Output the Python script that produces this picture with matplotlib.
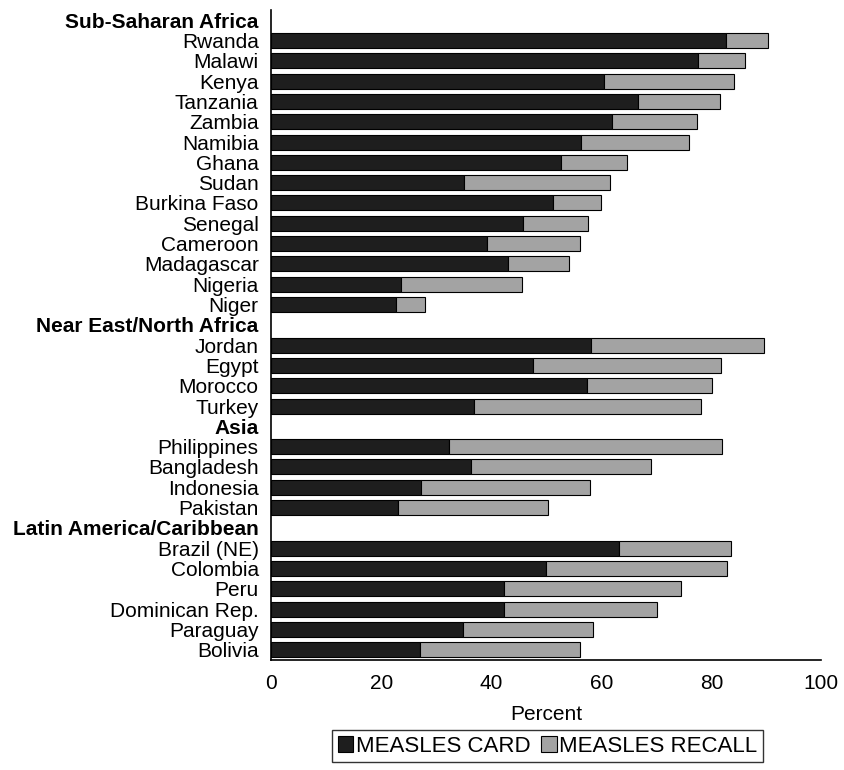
import numpy as np
import matplotlib
matplotlib.use("Agg")
import matplotlib.pyplot as plt

# ============ Data ============

labels = [
    "Sub-Saharan Africa", "Rwanda", "Malawi", "Kenya", "Tanzania", "Zambia",
    "Namibia", "Ghana", "Sudan", "Burkina Faso", "Senegal", "Cameroon",
    "Madagascar", "Nigeria", "Niger",
    "Near East/North Africa", "Jordan", "Egypt", "Morocco", "Turkey",
    "Asia", "Philippines", "Bangladesh", "Indonesia", "Pakistan",
    "Latin America/Caribbean", "Brazil (NE)", "Colombia", "Peru",
    "Dominican Rep.", "Paraguay", "Bolivia",
]
headers = ["Sub-Saharan Africa", "Near East/North Africa", "Asia", "Latin America/Caribbean"]

# nan = region header row (no bar)
measles_card = [
    np.nan, 82.6, 77.6, 60.5, 66.7, 61.9,
    56.3, 52.7, 35.1, 51.3, 45.7, 39.3,
    43.0, 23.6, 22.6,
    np.nan, 58.2, 47.5, 57.4, 36.8,
    np.nan, 32.3, 36.3, 27.2, 23.0,
    np.nan, 63.3, 49.9, 42.3,
    42.4, 34.9, 27.1,
]
measles_recall = [
    np.nan, 7.7, 8.6, 23.7, 14.8, 15.5,
    19.6, 12.0, 26.4, 8.6, 11.8, 16.8,
    11.2, 22.0, 5.3,
    np.nan, 31.4, 34.3, 22.8, 41.3,
    np.nan, 49.7, 32.8, 30.7, 27.4,
    np.nan, 20.2, 32.9, 32.1,
    27.7, 23.6, 29.1,
]
x_ticks = [0, 20, 40, 60, 80, 100]

# ============ Plot ============

plt.rcParams["font.family"] = ["Liberation Sans", "DejaVu Sans"]
FS = 15

fig = plt.figure(figsize=(8.45, 7.7), dpi=100)
ax = fig.add_axes([0.321, 0.143, 0.651, 0.844])

y = np.arange(len(labels))
card = np.array(measles_card, dtype=float)
recall = np.array(measles_recall, dtype=float)

ax.barh(y, card, height=0.74, color="#1e1e1e", edgecolor="black",
        linewidth=0.8, label="MEASLES CARD")
ax.barh(y, recall, left=card, height=0.74, color="#a3a3a3",
        edgecolor="black", linewidth=0.8, label="MEASLES RECALL")

ax.set_ylim(len(labels) - 0.5, -0.5)
ax.set_xlim(0, 100)
ax.set_yticks(y)
ax.set_yticklabels(labels, fontsize=FS)
for lab in ax.get_yticklabels():
    if lab.get_text() in headers:
        lab.set_fontweight("bold")
ax.set_xticks(x_ticks)
ax.set_xticklabels([str(v) for v in x_ticks], fontsize=FS)
ax.tick_params(axis="y", length=0, pad=9)
ax.tick_params(axis="x", length=0, pad=10)

for side in ("top", "right"):
    ax.spines[side].set_visible(False)
ax.spines["left"].set_linewidth(1.2)
ax.spines["bottom"].set_linewidth(1.2)

ax.set_xlabel("Percent", fontsize=FS, labelpad=9)

leg = fig.legend(
    loc="center", bbox_to_anchor=(0.648, 0.031), ncol=2,
    fontsize=16, frameon=True, fancybox=False, edgecolor="black",
    handlelength=0.7, handleheight=0.7, handletextpad=0.1,
    columnspacing=0.5, borderpad=0.25,
)
leg.get_frame().set_linewidth(1.0)

fig.savefig("out.png", dpi=100)
